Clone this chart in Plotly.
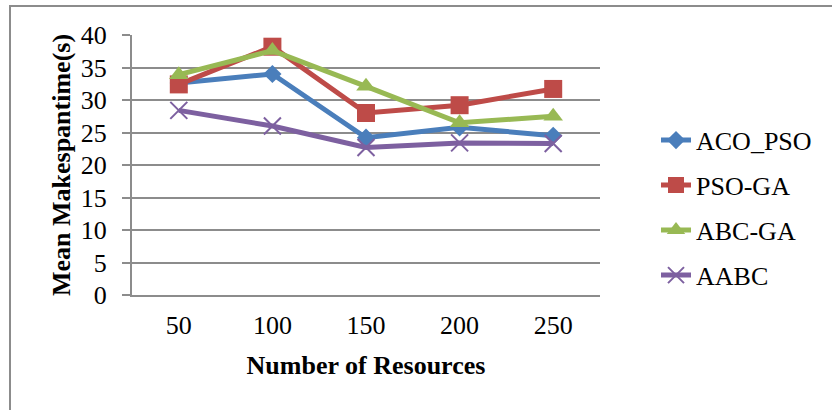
import plotly.graph_objects as go

# Mean makespan per algorithm vs. number of resources
resources = ["50", "100", "150", "200", "250"]
aco_pso = [32.6, 34.0, 24.2, 25.8, 24.5]
pso_ga = [32.4, 38.2, 28.0, 29.2, 31.7]
abc_ga = [33.9, 37.6, 32.1, 26.5, 27.5]
aabc = [28.4, 26.0, 22.7, 23.4, 23.3]

series = [
    ("ACO_PSO", aco_pso, "#4A7EBB", "diamond", 14, 0),
    ("PSO-GA", pso_ga, "#BE4B48", "square", 18, 0),
    ("ABC-GA", abc_ga, "#98B954", "triangle-up", 17, 0),
    ("AABC", aabc, "#7D60A0", "x-thin-open", 17, 2),
]

FONT = "Liberation Serif, Times New Roman, serif"
GRID = "#8C8C8C"

# plot-area geometry in pixels (used to place legends and the outer frame)
W, H = 832, 410
L, R, T, B = 132, 232, 35, 115
PW, PH = W - L - R, H - T - B

fig = go.Figure()
legend_rows = [140.2, 185.2, 230.2, 275.2]
legend_names = ["legend", "legend2", "legend3", "legend4"]

for (name, vals, color, sym, size, lw), lg in zip(series, legend_names):
    fig.add_trace(go.Scatter(
        x=resources, y=vals, name=name, mode="lines+markers",
        line=dict(color=color, width=5),
        marker=dict(symbol=sym, size=size, color=color,
                    line=dict(color=color, width=lw)),
        legend=lg,
    ))

layout_legends = {}
for lg, py in zip(legend_names, legend_rows):
    layout_legends[lg] = dict(
        x=(656 - L) / PW, xanchor="left",
        y=(H - B - py) / PH, yanchor="middle",
        font=dict(family=FONT, size=26, color="#000"),
        bgcolor="rgba(0,0,0,0)", borderwidth=0,
    )

fig.update_layout(
    width=W, height=H,
    margin=dict(l=L, r=R, t=T, b=B),
    paper_bgcolor="white", plot_bgcolor="white",
    font=dict(family=FONT, size=26, color="#000"),
    showlegend=True,
    **layout_legends,
    xaxis=dict(
        type="category", range=[-0.5, 4.5],
        showline=True, linecolor=GRID, linewidth=2,
        showgrid=False, ticks="", zeroline=False,
        ticklabelstandoff=6,
        tickfont=dict(family=FONT, size=26, color="#000"),
        title=dict(text="<b>Number of Resources</b>",
                   font=dict(family=FONT, size=26, color="#000"), standoff=17),
    ),
    yaxis=dict(
        range=[0, 40], dtick=5,
        showline=True, linecolor=GRID, linewidth=2,
        showgrid=True, gridcolor=GRID, gridwidth=2,
        ticks="outside", ticklen=8, tickcolor=GRID, tickwidth=2,
        zeroline=False,
        ticklabelstandoff=10,
        tickfont=dict(family=FONT, size=26, color="#000"),
        title=dict(text="<b>Mean Makespantime(s)</b>",
                   font=dict(family=FONT, size=26, color="#000"), standoff=3),
    ),
    shapes=[dict(
        type="rect", xref="paper", yref="paper",
        x0=(10 - L) / PW, x1=(W + 20 - L) / PW,
        y0=(H - B - (H + 20)) / PH, y1=(H - B - 6) / PH,
        line=dict(color="#8C8C8C", width=2), fillcolor="rgba(0,0,0,0)",
        layer="below",
    )],
)

fig.write_html("out.html")
